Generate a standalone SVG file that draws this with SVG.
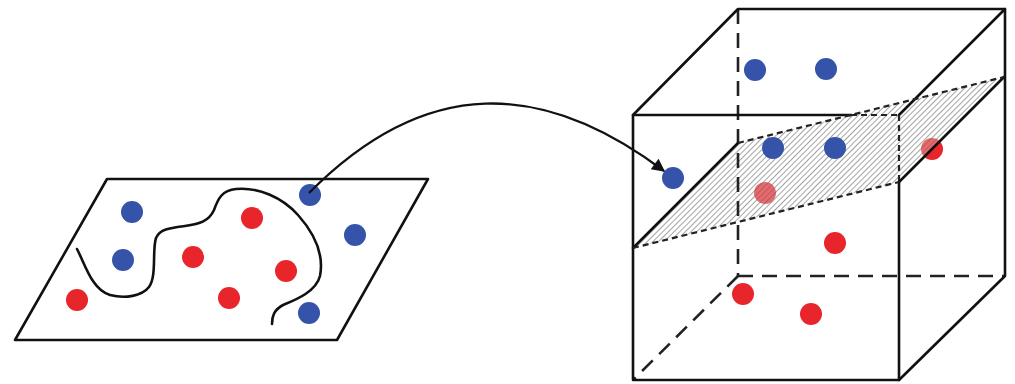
<svg xmlns="http://www.w3.org/2000/svg" width="1015" height="384" viewBox="0 0 1015 384">
<style>
.edge{fill:none;stroke:#111;stroke-width:2.6;stroke-linecap:round;stroke-linejoin:round}
.hid{fill:none;stroke:#222;stroke-width:2.6;stroke-dasharray:15 9}
.pdash{fill:none;stroke:#222;stroke-width:2.2;stroke-dasharray:6 4}
.blue{fill:#3553a8}
.red{fill:#e8252b}
</style>
<defs>
<pattern id="hatch" width="4" height="4" patternUnits="userSpaceOnUse" patternTransform="rotate(45)">
<line x1="0" y1="0" x2="0" y2="4" stroke="#666" stroke-width="1.2"/>
</pattern>
<marker id="ah" viewBox="0 0 10 10" refX="9" refY="5" markerWidth="16" markerHeight="13" markerUnits="userSpaceOnUse" orient="auto">
<path d="M0,0 L10,5 L0,10 z" fill="#111"/>
</marker>
</defs>
<rect width="1015" height="384" fill="#fff"/>

<g id="surface">
<polygon class="edge" points="107,179 428,179 337,340 15,340"/>
<path class="edge" d="M77,249 C85,264 92,290 110,295 C125,299 142,296 149,287 C157,276 152,250 156,238 C160,229 170,228 185,226 C200,224 209,221 214,210 C218,199 222,190 236,189 C258,187 282,197 298,215 C315,234 324,255 320,276 C316,292 295,300 283,305 C274,310 272,316 272,324"/>
<circle class="blue" cx="132" cy="212" r="11"/>
<circle class="blue" cx="123" cy="260" r="11"/>
<circle class="red" cx="77" cy="300" r="11"/>
<circle class="red" cx="193" cy="257" r="11"/>
<circle class="red" cx="252" cy="218" r="11"/>
<circle class="red" cx="286" cy="271" r="11"/>
<circle class="red" cx="229" cy="298" r="11"/>
<circle class="blue" cx="310" cy="195" r="11"/>
<circle class="blue" cx="355" cy="235" r="11"/>
<circle class="blue" cx="309" cy="313" r="11"/>
</g>

<g id="cube">
<circle class="red" cx="765" cy="193" r="11"/>
<circle class="red" cx="932" cy="149" r="11"/>
<polygon points="633,248 899,182 1004,77 738,143" fill="#fff" fill-opacity="0.3"/>
<polygon points="633,248 899,182 1004,77 738,143" fill="url(#hatch)"/>
<line class="hid" x1="738" y1="9" x2="738" y2="276"/>
<line class="hid" x1="738" y1="276" x2="1005" y2="276"/>
<line class="hid" x1="738" y1="276" x2="633" y2="380"/>
<path class="edge" d="M851,115 L633,115 L633,380 L899,380 L899,182"/>
<path class="edge" d="M633,115 L738,9 L1005,9 L899,115"/>
<path class="edge" d="M1005,9 L1005,276 L899,380"/>
<line class="pdash" x1="851" y1="115" x2="899" y2="115"/>
<line class="pdash" x1="899" y1="115" x2="899" y2="182"/>
<line class="edge" x1="633" y1="248" x2="738" y2="143"/>
<line class="edge" x1="899" y1="182" x2="1004" y2="77"/>
<line class="pdash" x1="633" y1="248" x2="899" y2="182"/>
<line class="pdash" x1="738" y1="143" x2="1004" y2="77"/>
<circle class="blue" cx="755" cy="70" r="11"/>
<circle class="blue" cx="826" cy="69" r="11"/>
<circle class="blue" cx="773" cy="148" r="11"/>
<circle class="blue" cx="835" cy="148" r="11"/>
<circle class="blue" cx="673" cy="178" r="11"/>
<circle class="red" cx="835" cy="243" r="11"/>
<circle class="red" cx="743" cy="294" r="11"/>
<circle class="red" cx="811" cy="314" r="11"/>
</g>

<g id="connectors">
<path d="M309,193 C426,75 543,80 664,171" fill="none" stroke="#111" stroke-width="2.3" marker-end="url(#ah)"/>
</g>
</svg>
